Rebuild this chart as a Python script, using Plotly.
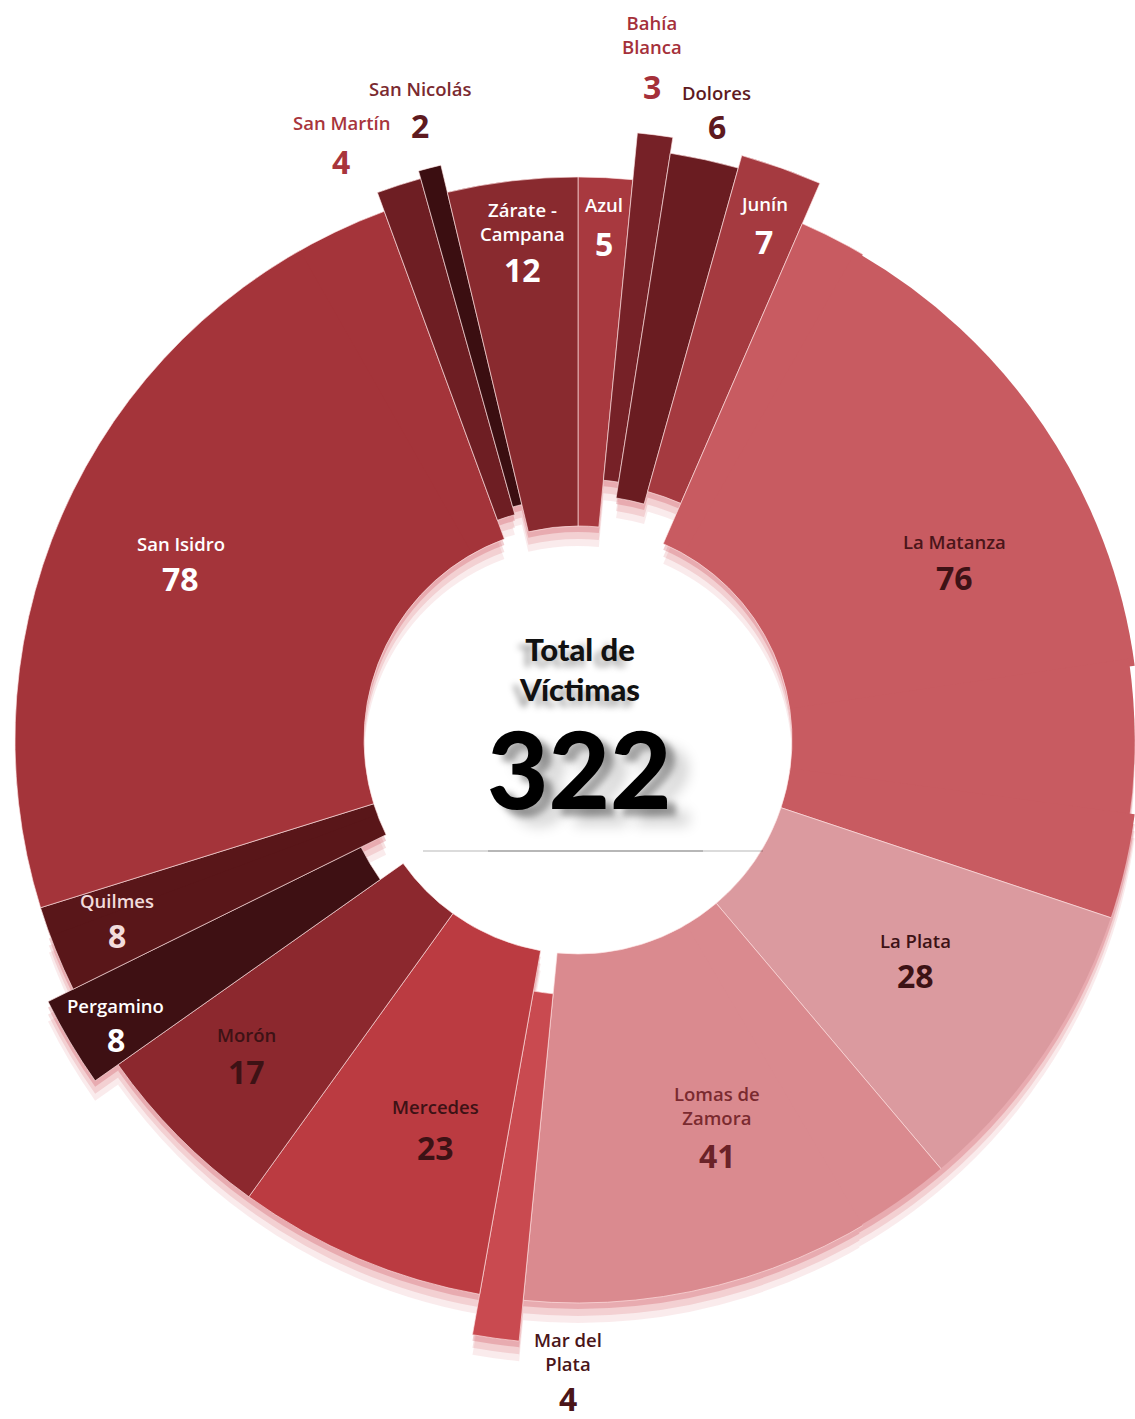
import math
import plotly.graph_objects as go

# ---------------- data ----------------
districts = ["Azul", "Bahía Blanca", "Dolores", "Junín", "La Matanza", "La Plata",
             "Lomas de Zamora", "Mar del Plata", "Mercedes", "Morón", "Pergamino",
             "Quilmes", "San Isidro", "San Martín", "San Nicolás", "Zárate - Campana"]
victims = [5, 3, 6, 7, 76, 28, 41, 4, 23, 17, 8, 8, 78, 4, 2, 12]
label_lines = ["Azul", "Bahía<br>Blanca", "Dolores", "Junín", "La Matanza", "La Plata",
               "Lomas de<br>Zamora", "Mar del<br>Plata", "Mercedes", "Morón", "Pergamino",
               "Quilmes", "San Isidro", "San Martín", "San Nicolás", "Zárate -<br>Campana"]
center_title = "Total de<br>Víctimas"

# ---------------- styling ----------------
slice_colors = ["#a8393f", "#762127", "#6a1c21", "#a53a40", "#c85b61", "#db9a9f",
                "#da8a8f", "#c94a50", "#bb3b41", "#8c282e", "#3e1013", "#591619",
                "#a4343a", "#6e1e23", "#3b0e11", "#892a2f"]
pull_px = [0, 47, 31, 44, 0, 0, 0, 41, 0, 0, 28, 0, 0, 20, 28, 0]
label_radius = [536, 709, 662, 568, 426, 393, 391, 612, 393, 444, 533, 488, 443, 661, 670, 521]
label_nudge = [0, -1.3, -0.2, -0.4, -3.8, -3.4, -3.5, -6.9, -1.6, 3.1, 0.9, 2.55, 0, -3.1, 0.9, 0.6]
value_drop = [39, 51.5, 34, 38, 36, 35, 50, 47, 41, 37, 34, 35, 35, 39, 37, 48]
name_colors = ["#ffffff", "#a5303a", "#5e1a1f", "#ffffff", "#4a1519", "#3d1215",
               "#7a2a30", "#4a1519", "#3d1215", "#3d1215", "#ffffff", "#f2dcdc",
               "#ffffff", "#a8353c", "#7b2a30", "#ffffff"]
value_colors = ["#ffffff", "#a5303a", "#5e1a1f", "#ffffff", "#3d1215", "#3d1215",
                "#6a2228", "#4a1519", "#3d1215", "#3d1215", "#ffffff", "#f2dcdc",
                "#ffffff", "#a8353c", "#5e1a1f", "#ffffff"]

W, H = 1135, 1419
CX, CY = 578, 740          # ring centre in page pixels
R_IN, R_OUT = 214, 563     # ring radii in pixels
LABEL_FONT = "Open Sans"
CENTER_FONT = "Lato"

total = sum(victims)
span = [v * 360.0 / total for v in victims]
starts = []
acc = 0.0
for s in span:
    starts.append(acc)
    acc += s
mids = [a + s / 2 for a, s in zip(starts, span)]


def sector_bbox(s0, s1):
    """Bounding box of a polar sector on the unit circle (same rule plotly uses)."""
    arc = s1 - s0
    a0 = s0 % 360
    a1 = a0 + arc
    ax0, ay0 = math.cos(math.radians(a0)), math.sin(math.radians(a0))
    ax1, ay1 = math.cos(math.radians(a1)), math.sin(math.radians(a1))
    if (a0 <= 90 and a1 >= 90) or (a0 > 90 and a1 >= 450):
        y1 = 1
    elif ay0 <= 0 and ay1 <= 0:
        y1 = 0
    else:
        y1 = max(ay0, ay1)
    if (a0 <= 180 and a1 >= 180) or (a0 > 180 and a1 >= 540):
        x0 = -1
    elif ax0 >= 0 and ax1 >= 0:
        x0 = 0
    else:
        x0 = min(ax0, ax1)
    if (a0 <= 270 and a1 >= 270) or (a0 > 270 and a1 >= 630):
        y0 = -1
    elif ay0 >= 0 and ay1 >= 0:
        y0 = 0
    else:
        y0 = min(ay0, ay1)
    if a1 >= 360:
        x1 = 1
    elif ax0 <= 0 and ax1 <= 0:
        x1 = 0
    else:
        x1 = max(ax0, ax1)
    return x0, y0, x1, y1


def piece_layout(start, end, r_target, cy, pad):
    """Polar subplot showing the clockwise-from-north span [start, end]
    around (CX, cy), scaled so that one radial unit is one pixel."""
    s0 = (90 - end - pad) % 360
    s1 = s0 + (end - start) + 2 * pad
    bx0, by0, bx1, by1 = sector_bbox(s0, s1)
    limits = [r_target]
    if bx0 < 0:
        limits.append(CX / -bx0)
    if bx1 > 0:
        limits.append((W - CX) / bx1)
    if by1 > 0:
        limits.append(cy / by1)
    if by0 < 0:
        limits.append((H - cy) / -by0)
    R = min(limits) - 0.3
    x0 = max(0.0, (CX + R * bx0) / W)
    x1 = min(1.0, (CX + R * bx1) / W)
    top = cy - R * by1
    bottom = cy - R * by0
    y0 = max(0.0, (H - bottom) / H)
    y1 = min(1.0, (H - top) / H)
    return dict(
        domain=dict(x=[x0, x1], y=[y0, y1]),
        sector=[s0, s1],
        hole=0,
        bgcolor="rgba(0,0,0,0)",
        radialaxis=dict(range=[0, R], visible=False),
        angularaxis=dict(rotation=90, direction="clockwise", visible=False,
                         thetaunit="degrees"),
    )


bar_len = [R_OUT - R_IN] * len(victims)
bar_base = [R_IN + p for p in pull_px]

fig = go.Figure()
layout_polars = {}
_next = [10]


def next_id():
    sid = f"polar{_next[0]}"
    _next[0] += 1
    return sid


# soft drop shadow: the ring drawn a few more times, shifted downwards
shadow_pieces = [(250, 458, 600), (98, 150, 600), (150, 250, 625)]
for offset, alpha in [(20, 0.11), (13, 0.17), (6, 0.27)]:
    for start, end, rt in shadow_pieces:
        sid = next_id()
        layout_polars[sid] = piece_layout(start, end, rt, CY + offset, 0)
        fig.add_trace(go.Barpolar(
            r=bar_len, base=bar_base, theta=mids, width=span,
            marker=dict(color=f"rgba(205,75,85,{alpha})", line=dict(width=0)),
            subplot=sid, hoverinfo="skip", showlegend=False))

# the ring itself, split into sectors so the outer slices are not clipped
main_pieces = [(-30, 30, 625), (30, 82, 563), (82, 98, 563), (98, 150, 563),
               (150, 250, 625), (250, 330, 580)]
for start, end, rt in main_pieces:
    sid = next_id()
    layout_polars[sid] = piece_layout(start, end, rt, CY, 0.4)
    fig.add_trace(go.Barpolar(
        r=bar_len, base=bar_base, theta=mids, width=span,
        marker=dict(color=slice_colors, line=dict(color="rgba(255,228,228,0.65)", width=1)),
        subplot=sid, hoverinfo="skip", showlegend=False))

# label anchors in a pixel frame centred on the ring (y up)
lab_theta = [m + n for m, n in zip(mids, label_nudge)]
lab_x = [r * math.sin(math.radians(t)) for r, t in zip(label_radius, lab_theta)]
lab_y = [r * math.cos(math.radians(t)) for r, t in zip(label_radius, lab_theta)]

fig.add_trace(go.Scatter(x=lab_x, y=lab_y, mode="markers", marker=dict(opacity=0),
                         hoverinfo="skip", showlegend=False))

annotations = []
for i in range(len(victims)):
    annotations.append(dict(
        x=lab_x[i], y=lab_y[i], xref="x", yref="y", text=label_lines[i],
        showarrow=False, xanchor="center", yanchor="middle",
        font=dict(family=LABEL_FONT, size=18.5, color=name_colors[i], weight=600)))
    annotations.append(dict(
        x=lab_x[i], y=lab_y[i], xref="x", yref="y", text=str(victims[i]),
        yshift=-value_drop[i], showarrow=False, xanchor="center", yanchor="middle",
        font=dict(family=LABEL_FONT, size=32, color=value_colors[i], weight=700)))

# centre caption
annotations.append(dict(
    x=1, y=CY - 669, xref="x", yref="y", text=center_title, showarrow=False,
    xanchor="center", yanchor="middle",
    font=dict(family=CENTER_FONT, size=31, color="#111111", weight=900,
              shadow="-7px 6px 6px rgba(0,0,0,0.35)")))
annotations.append(dict(
    x=1, y=CY - 768, xref="x", yref="y", text=str(total), showarrow=False,
    xanchor="center", yanchor="middle",
    font=dict(family=CENTER_FONT, size=106, color="#000000", weight=900,
              shadow="9px 7px 6px rgba(0,0,0,0.35), 22px 16px 14px rgba(0,0,0,0.18)")))

shapes = [
    dict(type="line", xref="x", yref="y", x0=-155, x1=185, y0=CY - 851, y1=CY - 851,
         line=dict(color="rgba(0,0,0,0.14)", width=2)),
    dict(type="line", xref="x", yref="y", x0=-90, x1=125, y0=CY - 851, y1=CY - 851,
         line=dict(color="rgba(0,0,0,0.22)", width=1.5)),
]

fig.update_layout(
    width=W, height=H, margin=dict(l=0, r=0, t=0, b=0),
    paper_bgcolor="#ffffff", plot_bgcolor="rgba(0,0,0,0)",
    showlegend=False, hovermode=False,
    xaxis=dict(range=[-CX, W - CX], visible=False, fixedrange=True),
    yaxis=dict(range=[-(H - CY), CY], visible=False, fixedrange=True),
    annotations=annotations, shapes=shapes,
    **layout_polars,
)

fig.write_html("out.html")
